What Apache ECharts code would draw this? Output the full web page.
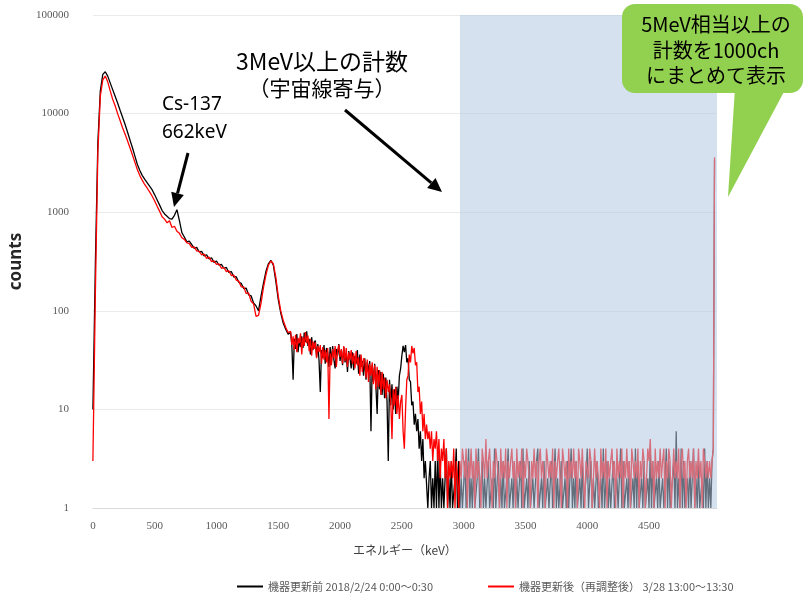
<!DOCTYPE html>
<html>
<head>
<meta charset="utf-8">
<script src="https://cdn.jsdelivr.net/npm/echarts@6/dist/echarts.min.js"></script>
<style>
  html, body { margin: 0; padding: 0; background: #fff; }
  #chart { width: 804px; height: 598px; }
</style>
</head>
<body>
<div id="chart"></div>
<script>
// エネルギー軸: 0-1580 keV は 20 keV 毎, 1600 keV 以降は 10 keV 毎, 最終点は 1000ch (5MeV以上まとめ)
const lowStep = 20;
const highStart = 1600;
const highStep = 10;
const overflowKeV = 5030;
const xTicks = [0, 500, 1000, 1500, 2000, 2500, 3000, 3500, 4000, 4500];
const yTicks = [1, 10, 100, 1000, 10000, 100000];

// 機器更新前 (黒)
const beforeLow = [
  10, 300, 5000, 17000, 25000, 26600, 24000, 20500, 17500, 15000,
  12800, 10800, 9200, 7800, 6500, 5400, 4500, 3700, 3050, 2650,
  2350, 2150, 1980, 1830, 1680, 1500, 1330, 1180, 1040, 960,
  910, 860, 850, 930, 1060, 820, 620, 560, 500, 510,
  470, 430, 440, 395, 400, 360, 370, 335, 345, 310,
  320, 290, 295, 270, 275, 245, 250, 220, 222, 195,
  190, 168, 170, 145, 142, 120, 112, 100, 140, 190,
  250, 300, 325, 290, 200, 130, 95, 75, 65, 58
];
const beforeHigh = [
  60, 44, 20, 52, 41, 58, 38, 50, 43, 55,
  42, 60, 48, 62, 44, 52, 36, 54, 40, 47,
  50, 34, 46, 31, 15, 40, 33, 45, 29, 42,
  38, 27, 43, 30, 44, 32, 26, 41, 35, 46,
  31, 40, 28, 43, 30, 37, 24, 39, 33, 26,
  38, 25, 35, 29, 40, 23, 36, 27, 31, 22,
  33, 20, 30, 24, 31, 6, 28, 19, 29, 17,
  9, 25, 16, 24, 14, 23, 13, 21, 12, 3,
  20, 11, 18, 10, 16, 9, 17, 12, 22, 26,
  35, 44, 38, 45, 30, 33, 20, 19, 11, 12,
  7, 9, 6, 8, 4, 6, 3, 5, 2, 3,
  3, 1, 2, 3, 1, 2, 1, 3, 1, 4,
  1, 3, 1, 2, 1, 1, 4, 1, 2, 1,
  3, 1, 1, 2, 4, 1, 3, 1, 2, 1,
  1, 3, 1, 1, 4, 1, 2, 1, 3, 1,
  1, 2, 4, 1, 1, 3, 1, 2, 1, 1,
  3, 1, 1, 2, 1, 4, 1, 1, 3, 1,
  2, 1, 3, 1, 1, 2, 4, 1, 1, 2,
  1, 3, 1, 2, 1, 1, 3, 1, 4, 1,
  1, 2, 1, 3, 1, 1, 2, 1, 1, 3,
  4, 1, 1, 2, 1, 3, 1, 1, 2, 1,
  1, 3, 1, 1, 4, 1, 2, 1, 1, 3,
  1, 1, 2, 1, 3, 1, 1, 4, 1, 2,
  1, 3, 1, 1, 2, 1, 3, 1, 1, 2,
  4, 1, 1, 3, 1, 2, 1, 1, 3, 1,
  1, 2, 1, 4, 1, 1, 3, 1, 2, 1,
  1, 3, 1, 1, 2, 1, 1, 4, 1, 3,
  1, 1, 2, 1, 3, 1, 1, 2, 1, 4,
  1, 3, 1, 1, 2, 1, 3, 1, 1, 2,
  1, 4, 1, 3, 1, 1, 2, 1, 3, 1,
  1, 2, 1, 1, 4, 1, 3, 1, 1, 2,
  3, 1, 6, 1, 2, 1, 4, 1, 3, 1,
  1, 2, 1, 3, 1, 1, 4, 1, 2, 1,
  3, 1, 1, 2, 1, 4, 1, 3, 1, 2,
  1, 3, 4
];
const beforeOverflow = 3400;

// 機器更新後（再調整後） (赤)
const afterLow = [
  3, 150, 4000, 15000, 22000, 24000, 21000, 17000, 14000, 12000,
  10000, 8500, 7200, 6200, 5300, 4500, 3800, 3200, 2700, 2350,
  2100, 1900, 1750, 1600, 1450, 1300, 1150, 1020, 900, 850,
  780, 820, 700, 720, 640, 610, 550, 530, 490, 480,
  440, 445, 405, 400, 370, 375, 340, 350, 315, 320,
  295, 300, 270, 275, 250, 255, 228, 230, 205, 200,
  175, 175, 150, 152, 125, 118, 88, 90, 118, 172,
  230, 290, 320, 300, 220, 140, 100, 80, 68, 60
];
const afterHigh = [
  62, 45, 55, 40, 57, 38, 53, 47, 59, 36,
  54, 44, 61, 47, 56, 39, 52, 35, 49, 41,
  48, 33, 44, 38, 45, 29, 43, 32, 40, 30,
  42, 8, 37, 28, 41, 33, 44, 27, 39, 45,
  34, 41, 29, 44, 31, 42, 27, 38, 32, 40,
  29, 37, 26, 39, 28, 34, 22, 36, 24, 33,
  31, 21, 32, 19, 29, 22, 30, 18, 28, 16,
  27, 17, 25, 14, 24, 16, 21, 13, 20, 15,
  18, 12, 5, 16, 11, 17, 9, 14, 8, 12,
  14, 6, 4, 10, 20, 22, 36, 30, 44, 37,
  42, 28, 30, 15, 17, 9, 12, 6, 9, 5,
  7, 5, 6, 4, 6, 3, 5, 4, 6, 3,
  5, 2, 4, 3, 5, 2, 4, 1, 3, 2,
  3, 2, 4, 1, 3, 2, 1, 3, 2, 4,
  3, 2, 4, 1, 3, 2, 4, 2, 3, 1,
  4, 2, 3, 2, 1, 4, 3, 2, 5, 2,
  3, 4, 2, 1, 3, 2, 4, 3, 2, 1,
  4, 2, 3, 2, 4, 1, 3, 2, 3, 4,
  2, 3, 1, 4, 2, 3, 2, 4, 1, 3,
  2, 4, 3, 2, 1, 3, 2, 4, 2, 3,
  1, 3, 4, 2, 3, 2, 1, 4, 3, 2,
  3, 2, 4, 1, 3, 2, 3, 4, 2, 1,
  4, 3, 2, 3, 1, 4, 2, 3, 2, 4,
  2, 3, 1, 4, 3, 2, 4, 2, 1, 3,
  3, 2, 4, 3, 1, 2, 4, 2, 3, 2,
  1, 4, 2, 3, 2, 4, 1, 3, 2, 3,
  4, 2, 3, 1, 4, 2, 3, 2, 4, 1,
  3, 2, 4, 2, 3, 1, 4, 3, 2, 3,
  2, 4, 1, 3, 2, 4, 3, 1, 2, 4,
  3, 5, 2, 3, 1, 4, 2, 3, 2, 4,
  2, 3, 4, 1, 3, 2, 4, 3, 1, 2,
  4, 2, 3, 2, 4, 1, 3, 4, 2, 3,
  1, 3, 4, 2, 3, 2, 4, 1, 3, 2,
  4, 2, 3, 1, 4, 3, 2, 3, 2, 3,
  2, 3, 4
];
const afterOverflow = 3600;

const names = ['機器更新前 2018/2/24 0:00～0:30', '機器更新後（再調整後） 3/28 13:00～13:30'];

function toPoints(low, high, overflow) {
  const pts = [];
  low.forEach((v, i) => pts.push([i * lowStep, v]));
  high.forEach((v, i) => pts.push([highStart + i * highStep, v]));
  pts.push([overflowKeV, overflow]);
  return pts;
}

const labelFont = '"Liberation Serif", serif';
const jpFont = '"Noto Sans CJK JP", sans-serif';

const chart = echarts.init(document.getElementById('chart'));
chart.setOption({
  animation: false,
  backgroundColor: '#fff',
  grid: { left: 89, right: 87, top: 15, bottom: 90 },
  legend: {
    left: 232, top: 576,
    icon: 'rect', itemWidth: 26, itemHeight: 2, itemGap: 55,
    textStyle: { fontFamily: jpFont, fontSize: 11, color: '#595959' },
    data: names
  },
  xAxis: {
    type: 'value', min: 0, max: 5050, interval: 500,
    name: 'エネルギー（keV）', nameLocation: 'middle', nameGap: 36,
    nameTextStyle: { fontFamily: jpFont, fontSize: 12, color: '#404040' },
    axisLine: { lineStyle: { color: '#d9d9d9' } },
    axisTick: { show: false },
    splitLine: { show: false },
    axisLabel: {
      margin: 13, fontFamily: labelFont, fontSize: 11, color: '#595959',
      formatter: v => (xTicks.indexOf(v) >= 0 ? String(v) : '')
    }
  },
  yAxis: {
    type: 'log', logBase: 10, min: yTicks[0], max: yTicks[yTicks.length - 1],
    name: 'counts', nameLocation: 'middle', nameGap: 62,
    nameTextStyle: { fontFamily: '"Noto Sans", sans-serif', fontWeight: 'bold', fontSize: 17, color: '#262626' },
    axisLine: { show: false },
    axisTick: { show: false },
    splitLine: { lineStyle: { color: '#ebebeb' } },
    axisLabel: {
      margin: 24, fontFamily: labelFont, fontSize: 11, color: '#595959',
      formatter: v => String(Math.round(v))
    }
  },
  series: [
    {
      name: names[0], type: 'line', data: toPoints(beforeLow, beforeHigh, beforeOverflow),
      showSymbol: false, symbol: 'none', color: '#000000',
      lineStyle: { width: 1.3, color: '#000000' }, z: 2
    },
    {
      name: names[1], type: 'line', data: toPoints(afterLow, afterHigh, afterOverflow),
      showSymbol: false, symbol: 'none', color: '#ff0000',
      lineStyle: { width: 1.3, color: '#ff0000' }, z: 3
    }
  ]
});

// 3MeV以上の領域 (半透明の青い矩形) と注釈
const p0 = chart.convertToPixel({ xAxisIndex: 0, yAxisIndex: 0 }, [2970, yTicks[yTicks.length - 1]]);
const p1 = chart.convertToPixel({ xAxisIndex: 0, yAxisIndex: 0 }, [5050, yTicks[0]]);

function arrow(x1, y1, x2, y2) {
  const dx = x2 - x1, dy = y2 - y1, L = Math.hypot(dx, dy);
  const ux = dx / L, uy = dy / L, hl = 14, hw = 6.5;
  const bx = x2 - ux * hl, by = y2 - uy * hl;
  return [
    { type: 'line', z: 60, shape: { x1: x1, y1: y1, x2: bx, y2: by }, style: { stroke: '#000', lineWidth: 3 } },
    { type: 'polygon', z: 60, shape: { points: [[x2, y2], [bx - uy * hw, by + ux * hw], [bx + uy * hw, by - ux * hw]] }, style: { fill: '#000' } }
  ];
}

function label(text, x, y, size, align) {
  return {
    type: 'text', z: 70, x: x, y: y,
    style: { text: text, font: size + 'px ' + jpFont, fill: '#000', textAlign: align || 'center', textVerticalAlign: 'middle' }
  };
}

chart.setOption({
  graphic: [
    {
      type: 'rect', z: 50, silent: true,
      shape: { x: p0[0], y: p0[1], width: p1[0] - p0[0], height: p1[1] - p0[1] },
      style: { fill: 'rgba(180,200,225,0.55)' }
    },
    label('3MeV以上の計数', 322, 61, 23),
    label('（宇宙線寄与）', 322, 88, 21),
    ...arrow(345, 110, 442, 192),
    {
      type: 'text', z: 70, x: 162, y: 105,
      style: { text: 'Cs-137', font: '19px "Noto Sans", sans-serif', fill: '#000', textAlign: 'left', textVerticalAlign: 'middle' }
    },
    {
      type: 'text', z: 70, x: 162, y: 133,
      style: { text: '662keV', font: '19px "Noto Sans", sans-serif', fill: '#000', textAlign: 'left', textVerticalAlign: 'middle' }
    },
    ...arrow(188, 153, 174, 207),
    {
      type: 'polygon', z: 65,
      shape: { points: [[735, 88], [786, 88], [728, 197]] },
      style: { fill: '#92d050' }
    },
    {
      type: 'rect', z: 65,
      shape: { x: 622, y: 4, width: 181, height: 89, r: 13 },
      style: { fill: '#92d050' }
    },
    label('5MeV相当以上の', 716, 24, 20),
    label('計数を1000ch', 716, 50, 20),
    label('にまとめて表示', 716, 75, 20)
  ]
});
</script>
</body>
</html>
